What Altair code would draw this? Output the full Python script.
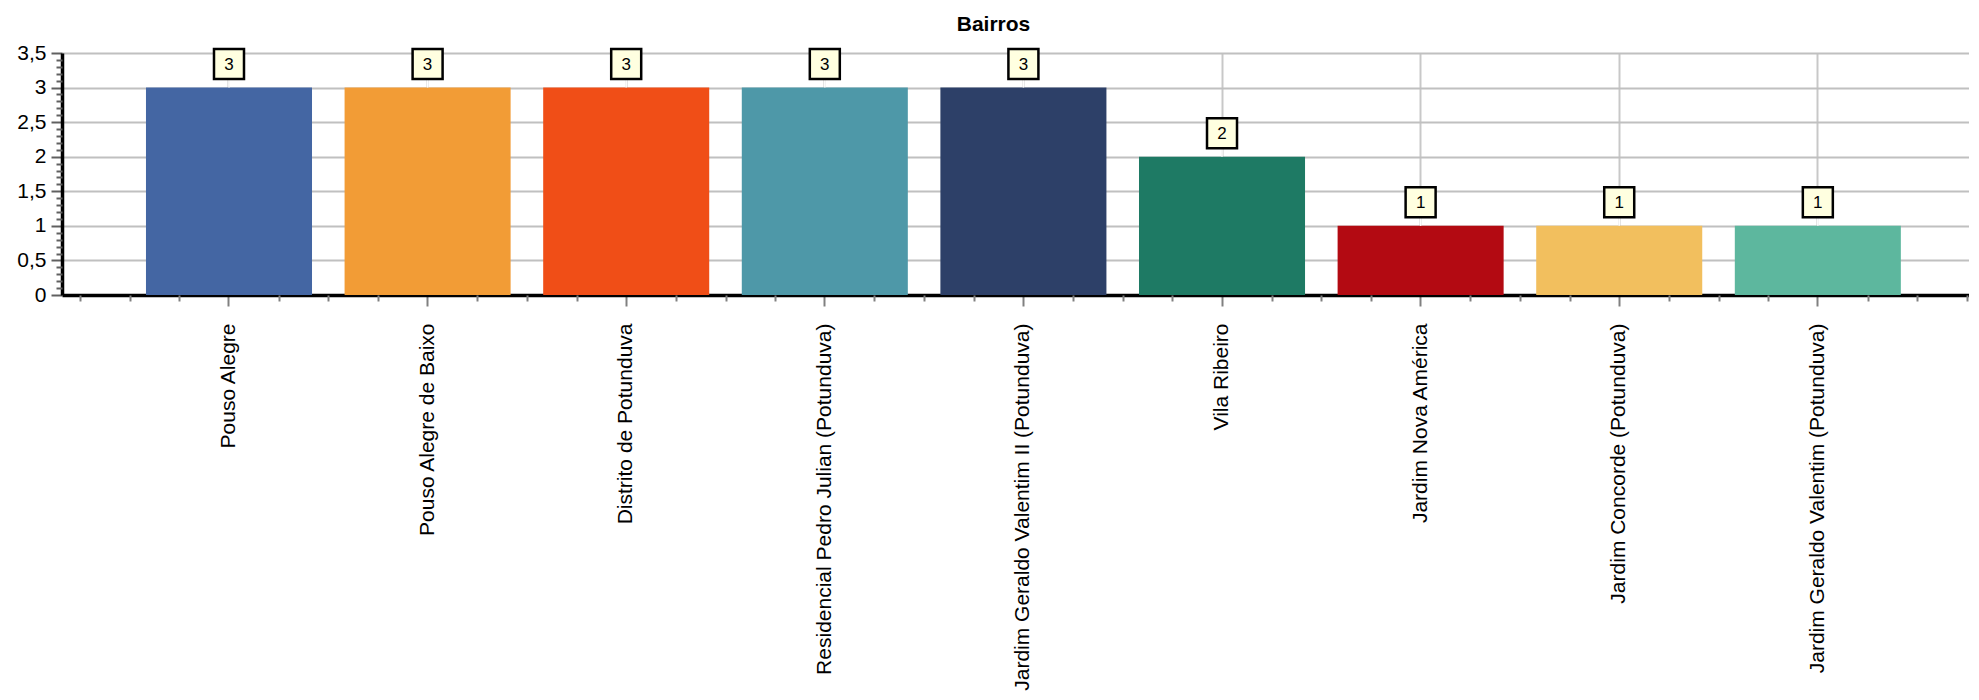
import altair as alt
import pandas as pd

categories = [
    "Pouso Alegre",
    "Pouso Alegre de Baixo",
    "Distrito de Potunduva",
    "Residencial Pedro Julian (Potunduva)",
    "Jardim Geraldo Valentim II (Potunduva)",
    "Vila Ribeiro",
    "Jardim Nova América",
    "Jardim Concorde (Potunduva)",
    "Jardim Geraldo Valentim (Potunduva)",
]
counts = [3, 3, 3, 3, 3, 2, 1, 1, 1]
colors = ["#4466A3", "#F29C36", "#F04E17", "#4E98A8", "#2D4068",
          "#1E7A64", "#B30A12", "#F2BF5E", "#5DB79E"]
y_major = [0, 0.5, 1, 1.5, 2, 2.5, 3, 3.5]
y_minor = [round(k * 0.1, 1) for k in range(36) if k % 5]
x_minor = [i + f for i in range(-1, 9) for f in (0.25, 0.5, 0.75)]

FONT = "Liberation Sans"
W, H = 1907, 242

df = pd.DataFrame({"bairro": categories, "count": counts, "idx": list(range(len(categories)))})

xscale = alt.Scale(paddingInner=0.164, paddingOuter=0.383, align=0.552)
yscale = alt.Scale(domain=[0, 3.5], nice=False, zero=True)

xaxis = alt.Axis(title=None, labelAngle=-90, labelFont=FONT, labelFontSize=21, labelColor="black",
                 labelPadding=17, tickSize=11, tickWidth=2, tickColor="#808080",
                 domainColor="black", domainWidth=3.5, grid=True, gridColor="#c8c8c8", gridWidth=2,
                 labelLimit=1000)
yaxis = alt.Axis(title=None, values=y_major, labelFont=FONT, labelFontSize=21, labelColor="black",
                 labelExpr="replace(toString(datum.value), '.', ',')",
                 labelPadding=5, tickSize=11, tickWidth=2, tickColor="#606060",
                 domainColor="black", domainWidth=3.5, grid=True, gridColor="#c0c0c0", gridWidth=2)

base = alt.Chart(df).encode(
    x=alt.X("bairro:N", sort=categories, scale=xscale, axis=xaxis),
    y=alt.Y("count:Q", scale=yscale, axis=yaxis),
)

bars = base.mark_bar().encode(
    color=alt.Color("bairro:N", sort=categories,
                    scale=alt.Scale(domain=categories, range=colors), legend=None)
)
connector = base.mark_rule(color="white", strokeWidth=1.5, y2Offset=-8).encode(y2="count:Q")
boxes = base.mark_square(size=900, fill="#FFFFE0", stroke="black", strokeWidth=2.5,
                         opacity=1, yOffset=-23.5)
texts = base.mark_text(yOffset=-23, font=FONT, fontSize=17, color="black",
                       baseline="middle", align="center").encode(text="count:Q")

main = alt.layer(bars, connector, boxes, texts)

hidden = alt.Chart(df).mark_point(opacity=0).encode(
    x=alt.X("idx:Q", scale=alt.Scale(domain=[-0.841, 8.761], nice=False, zero=False),
            axis=alt.Axis(values=x_minor, labels=False, domain=False, grid=False, tickSize=6,
                          tickWidth=2, tickColor="#808080", title=None, orient="bottom")),
    y=alt.Y("count:Q", scale=yscale,
            axis=alt.Axis(values=y_minor, labels=False, domain=False, grid=False, tickSize=6,
                          tickWidth=2, tickColor="#606060", title=None, orient="left")),
)

chart = alt.layer(main, hidden).resolve_scale(x="independent").resolve_axis(
    x="independent", y="independent"
).properties(
    width=W,
    height=H,
    title=alt.Title("Bairros", font=FONT, fontSize=21, fontWeight="bold", color="black",
                    anchor="middle", dx=-22, dy=-3),
    autosize=alt.AutoSizeParams(type="none"),
    padding={"left": 54, "top": 45, "right": 0, "bottom": 397},
).configure_view(stroke=None)

chart.save("out.html", embed_options={"renderer": "svg", "actions": False})
